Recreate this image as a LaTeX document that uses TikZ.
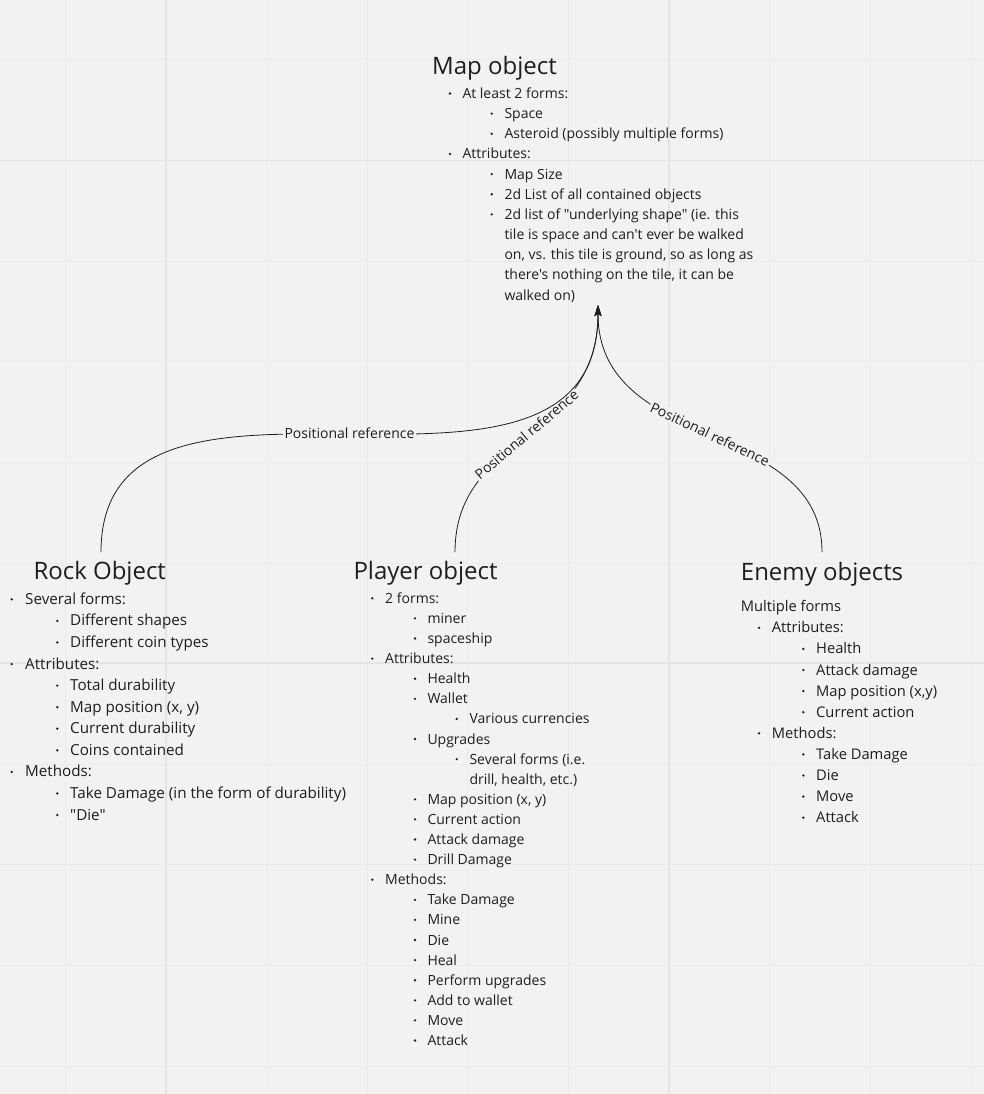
\documentclass[tikz,border=0pt]{standalone}
\usepackage{fontspec}
\setmainfont{Open Sans}[Ligatures=TeXOff]
\usetikzlibrary{arrows.meta}
\definecolor{bg}{HTML}{F2F2F2}
\definecolor{gridminor}{HTML}{EBEBEB}
\definecolor{gridmajor}{HTML}{E4E4E4}
\definecolor{ink}{HTML}{1E1E1E}
\tikzset{
  txt/.style={text=ink, inner sep=0pt, anchor=base west},
  ttl/.style={txt, font=\fontsize{24}{28}\selectfont},
  mapf/.style={txt, font=\fontsize{14}{17}\selectfont},
  plyf/.style={txt, font=\fontsize{14}{17}\selectfont},
  rockf/.style={txt, font=\fontsize{15.2}{18}\selectfont},
  enef/.style={txt, font=\fontsize{14.7}{18}\selectfont},
  conn/.style={draw=ink, line width=0.8pt, -{Stealth[length=11pt,width=7pt,inset=2pt]}},
  lbl/.style={fill=bg, text=ink, inner sep=1.5pt, font=\fontsize{14}{16}\selectfont},
  minorline/.style={draw=gridminor, line width=1pt},
  majorline/.style={draw=gridmajor, line width=1.6pt},
}
% #1 style, #2 name, #3 bullet x, #4 baseline y, #5 text x, #6 text
\newcommand\itm[6]{%
  \fill[ink] (#3,#4-5) circle (1.3);
  \node[#1] (#2) at (#5,#4) {#6};}
\newcommand\cnt[5]{%
  \node[#1] (#2) at (#4,#3) {#5};}
\begin{document}
\begin{tikzpicture}[x=1pt,y=-1pt]
\fill[bg] (0,0) rectangle (984,1094);
\useasboundingbox (0,0) rectangle (984,1094);
% grid
\foreach \i in {-1,...,8} {
  \draw[minorline] ({166+100.6*\i},0) -- ({166+100.6*\i},1094);
}
\foreach \k in {0,...,10} {
  \draw[minorline] (0,{60+100.6*\k}) -- (984,{60+100.6*\k});
}
\draw[majorline] (166,0) -- (166,1094);
\draw[majorline] (669,0) -- (669,1094);
\draw[majorline] (0,160.6) -- (984,160.6);
\draw[majorline] (0,663) -- (984,663);

% ---------- Map object ----------
\node[ttl] (map) at (432,75) {Map object};
\itm{mapf}{m1}{450}{98.5}{462.3}{At least 2 forms:}
\itm{mapf}{m2}{491.7}{118.65}{504.3}{Space}
\itm{mapf}{m3}{491.7}{138.8}{504.3}{Asteroid (possibly multiple forms)}
\itm{mapf}{m4}{450}{158.95}{462.3}{Attributes:}
\itm{mapf}{m5}{491.7}{179.1}{504.3}{Map Size}
\itm{mapf}{m6}{491.7}{199.25}{504.3}{2d List of all contained objects}
\itm{mapf}{m7}{491.7}{219.4}{504.3}{2d list of "underlying shape" (ie. this}
\cnt{mapf}{m8}{239.55}{504.3}{tile is space and can't ever be walked}
\cnt{mapf}{m9}{259.7}{504.3}{on, vs. this tile is ground, so as long as}
\cnt{mapf}{m10}{279.85}{504.3}{there's nothing on the tile, it can be}
\cnt{mapf}{m11}{300}{504.3}{walked on)}

% ---------- Rock object ----------
\node[ttl] (rock) at (33.3,579.3) {Rock Object};
\itm{rockf}{r1}{11.7}{604.3}{25}{Several forms:}
\itm{rockf}{r2}{57.3}{625.9}{70}{Different shapes}
\itm{rockf}{r3}{57.3}{647.4}{70}{Different coin types}
\itm{rockf}{r4}{11.7}{669.0}{25}{Attributes:}
\itm{rockf}{r5}{57.3}{690.6}{70}{Total durability}
\itm{rockf}{r6}{57.3}{712.2}{70}{Map position (x, y)}
\itm{rockf}{r7}{57.3}{733.7}{70}{Current durability}
\itm{rockf}{r8}{57.3}{755.3}{70}{Coins contained}
\itm{rockf}{r9}{11.7}{776.9}{25}{Methods:}
\itm{rockf}{r10}{57.3}{798.4}{70}{Take Damage (in the form of durability)}
\itm{rockf}{r11}{57.3}{820}{70}{"Die"}

% ---------- Player object ----------
\node[ttl] (player) at (353.3,579.3) {Player object};
\itm{plyf}{p1}{372.3}{603.3}{385}{2 forms:}
\itm{plyf}{p2}{415}{623.4}{427.3}{miner}
\itm{plyf}{p3}{415}{643.5}{427.3}{spaceship}
\itm{plyf}{p4}{372.3}{663.6}{385}{Attributes:}
\itm{plyf}{p5}{415}{683.7}{427.3}{Health}
\itm{plyf}{p6}{415}{703.8}{427.3}{Wallet}
\itm{plyf}{p7}{456.7}{723.9}{469.3}{Various currencies}
\itm{plyf}{p8}{415}{744.0}{427.3}{Upgrades}
\itm{plyf}{p9}{456.7}{764.1}{469.3}{Several forms (i.e.}
\cnt{plyf}{p10}{784.2}{469.3}{drill, health, etc.)}
\itm{plyf}{p11}{415}{804.3}{427.3}{Map position (x, y)}
\itm{plyf}{p12}{415}{824.4}{427.3}{Current action}
\itm{plyf}{p13}{415}{844.5}{427.3}{Attack damage}
\itm{plyf}{p14}{415}{864.6}{427.3}{Drill Damage}
\itm{plyf}{p15}{372.3}{884.7}{385}{Methods:}
\itm{plyf}{p16}{415}{904.8}{427.3}{Take Damage}
\itm{plyf}{p17}{415}{924.9}{427.3}{Mine}
\itm{plyf}{p18}{415}{945.0}{427.3}{Die}
\itm{plyf}{p19}{415}{965.1}{427.3}{Heal}
\itm{plyf}{p20}{415}{985.2}{427.3}{Perform upgrades}
\itm{plyf}{p21}{415}{1005.3}{427.3}{Add to wallet}
\itm{plyf}{p22}{415}{1025.4}{427.3}{Move}
\itm{plyf}{p23}{415}{1045.5}{427.3}{Attack}

% ---------- Enemy objects ----------
\node[ttl] (enemy) at (740.7,580) {Enemy objects};
\cnt{enef}{e0}{611.7}{740.7}{Multiple forms}
\itm{enef}{e1}{759}{632.8}{771.7}{Attributes:}
\itm{enef}{e2}{803.3}{653.9}{816}{Health}
\itm{enef}{e3}{803.3}{675.0}{816}{Attack damage}
\itm{enef}{e4}{803.3}{696.1}{816}{Map position (x,y)}
\itm{enef}{e5}{803.3}{717.2}{816}{Current action}
\itm{enef}{e6}{759}{738.3}{771.7}{Methods:}
\itm{enef}{e7}{803.3}{759.4}{816}{Take Damage}
\itm{enef}{e8}{803.3}{780.5}{816}{Die}
\itm{enef}{e9}{803.3}{801.6}{816}{Move}
\itm{enef}{e10}{803.3}{822.7}{816}{Attack}

% ---------- connectors ----------
\coordinate (mapIn) at (598,305);
\coordinate (rockOut) at (101,552);
\coordinate (playerOut) at (455,552);
\coordinate (enemyOut) at (822,552);
\draw[conn] (playerOut) .. controls (455,433) and (598,440) .. (mapIn)
  node[lbl, pos=0.5, sloped] (l2) {Positional reference};
\draw[conn] (enemyOut) .. controls (822,419) and (598,453) .. (mapIn)
  node[lbl, pos=0.5, sloped] (l3) {Positional reference};
\draw[conn] (rockOut) .. controls (101,311) and (598,558) .. (mapIn)
  node[lbl, pos=0.5, sloped] (l1) {Positional reference};
\end{tikzpicture}
\end{document}
